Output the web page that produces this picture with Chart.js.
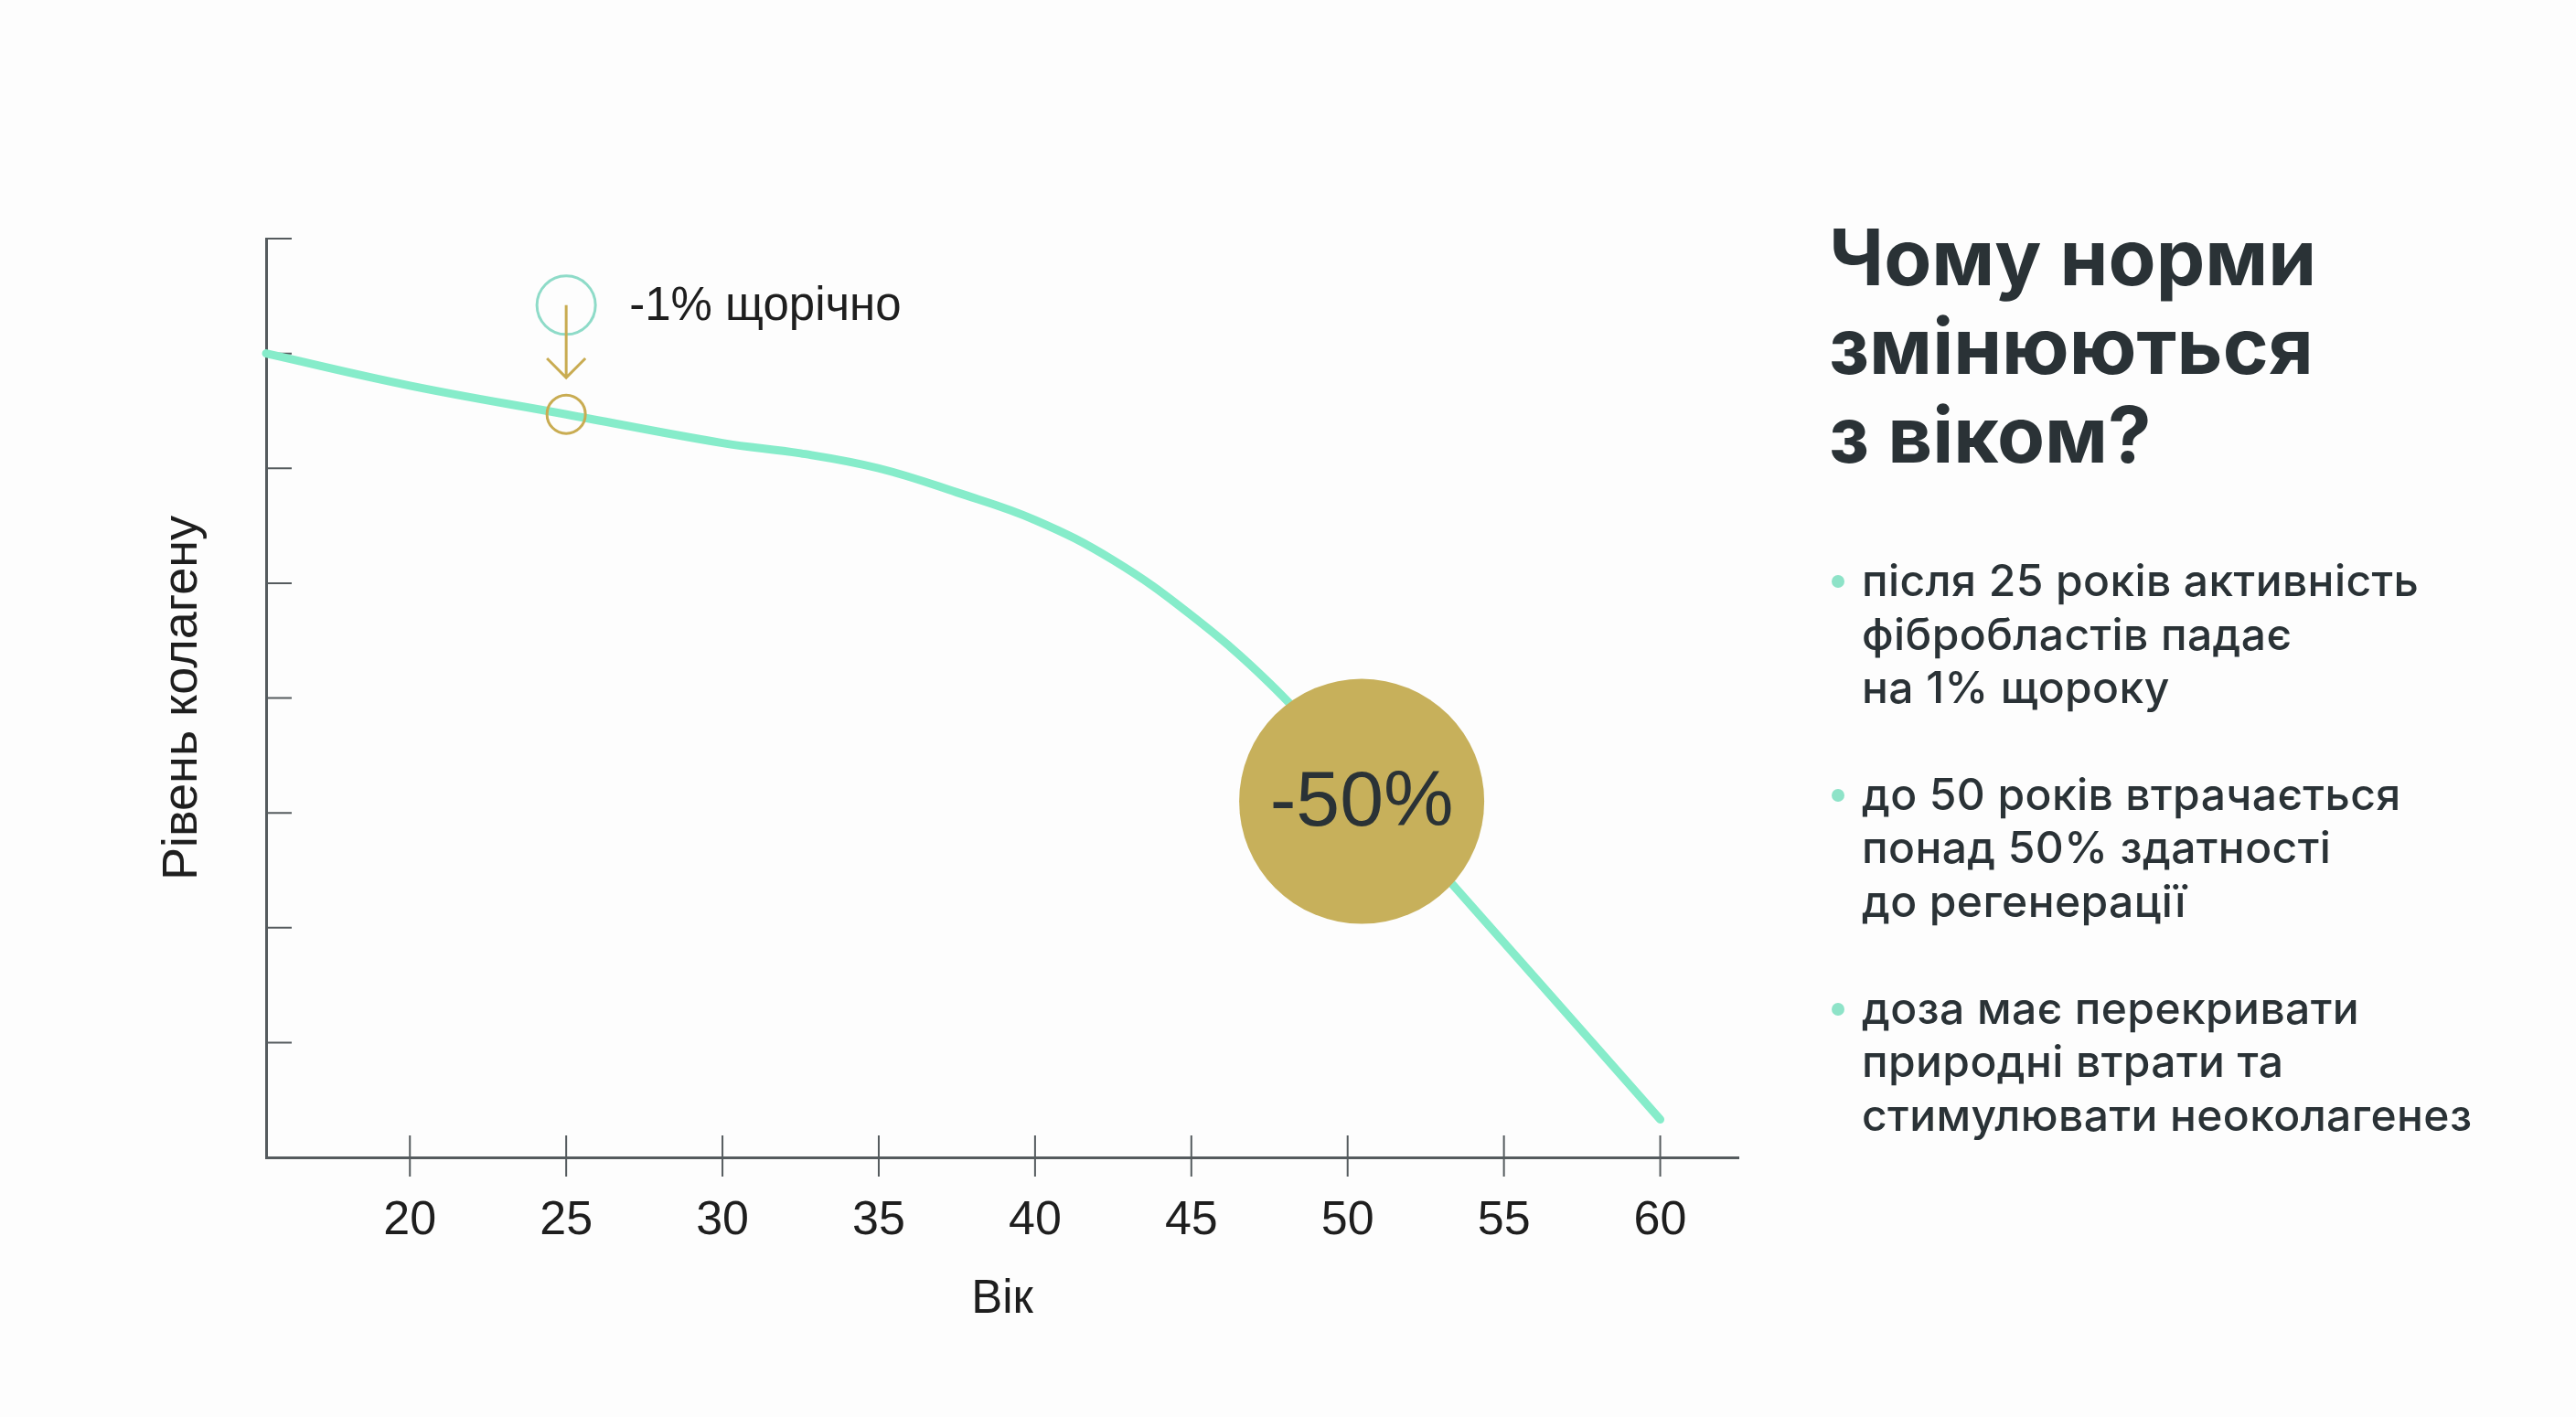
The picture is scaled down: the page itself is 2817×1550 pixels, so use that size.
<!DOCTYPE html>
<html lang="uk">
<head>
<meta charset="utf-8">
<title>Рівень колагену</title>
<script src="https://cdn.jsdelivr.net/npm/chart.js@4.4.1/dist/chart.umd.min.js"></script>
<style>
    html, body {
        margin: 0;
        padding: 0;
        width: 2817px;
        height: 1550px;
        overflow: hidden;
        background: #fdfdfd;
    }
    #chartBox {
        position: absolute;
        left: 0;
        top: 0;
        width: 2035px;
        height: 1550px;
    }
    #side {
        position: absolute;
        left: 2000px;
        top: 233px;
        width: 800px;
        color: #2a3236;
        font-family: Inter, "Noto Sans", sans-serif;
    }
    #side h1 {
        margin: 0;
        font-size: 85px;
        line-height: 97px;
        font-weight: 700;
    }
    #side ul {
        list-style: none;
        margin: 82px 0 0 0;
        padding: 0;
    }
    #side li {
        position: relative;
        padding-left: 36px;
        font-size: 48px;
        font-weight: 500;
        letter-spacing: 0.4px;
        line-height: 58.6px;
        margin-bottom: 58px;
    }
    #side li::before {
        content: "";
        position: absolute;
        left: 3px;
        top: 23px;
        width: 14px;
        height: 14px;
        border-radius: 50%;
        background: #8ee3c8;
    }
</style>
</head>
<body>
<div id="chartBox"><canvas id="collagenChart"></canvas></div>
<div id="side">
    <h1>Чому норми<br>змінюються<br>з віком?</h1>
    <ul>
        <li>після 25 років активність<br>фібробластів падає<br>на 1% щороку</li>
        <li>до 50 років втрачається<br>понад 50% здатності<br>до регенерації</li>
        <li>доза має перекривати<br>природні втрати та<br>стимулювати неоколагенез</li>
    </ul>
</div>
<script>
// curve (age -> collagen level, y ticks 0..8)
const ages = [15.4, 20, 25, 30, 32.5, 35, 37.5, 40, 42.5, 45, 47.5, 50, 55, 60];
const collagen = [7.0, 6.72, 6.47, 6.22, 6.13, 6.0, 5.79, 5.55, 5.2, 4.72, 4.13, 3.4, 1.87, 0.33];
const xTicks = [20, 25, 30, 35, 40, 45, 50, 55, 60];
const yTicks = [0, 1, 2, 3, 4, 5, 6, 7, 8];

// annotation: -1% per year marker at 25
const markerAge = [25];
const markerLevels = [7.42, 6.47]; // teal ring, gold ring on the curve
const arrowLevels = [7.42, 6.79];
const markerText = ["-1% щорічно"];

// annotation: -50% disc
const dropPoint = [50.45, 3.1];
const dropText = ["-50%"];

const COLORS = {
    line: "#86ecca",
    teal: "#8edbc8",
    gold: "#c9ac52",
    disc: "#c7b05b",
    axis: "#555b5e",
    text: "#1e1e1e",
    dark: "#2a3236",
};

Chart.defaults.font.family = "'Liberation Sans', Arial, sans-serif";
Chart.defaults.color = COLORS.text;

const axisMarks = {
    id: "axisMarks",
    beforeDatasetsDraw(chart) {
        const ctx = chart.ctx;
        const x = chart.scales.x;
        const y = chart.scales.y;
        const area = chart.chartArea;
        ctx.save();
        ctx.strokeStyle = COLORS.axis;
        ctx.lineWidth = 2;
        ctx.beginPath();
        yTicks.forEach((v) => {
            if (v === 0) return;
            const py = y.getPixelForValue(v);
            ctx.moveTo(area.left, py);
            ctx.lineTo(area.left + 28, py);
        });
        xTicks.forEach((v) => {
            const px = x.getPixelForValue(v);
            ctx.moveTo(px, area.bottom - 24);
            ctx.lineTo(px, area.bottom + 21);
        });
        ctx.stroke();
        ctx.restore();
    },
    afterDatasetsDraw(chart) {
        const ctx = chart.ctx;
        const x = chart.scales.x;
        const y = chart.scales.y;
        ctx.save();

        // arrow from teal ring down to the curve
        const ax = x.getPixelForValue(markerAge[0]);
        const ay0 = y.getPixelForValue(arrowLevels[0]);
        const ay1 = y.getPixelForValue(arrowLevels[1]);
        ctx.strokeStyle = COLORS.gold;
        ctx.lineWidth = 3;
        ctx.beginPath();
        ctx.moveTo(ax, ay0);
        ctx.lineTo(ax, ay1);
        ctx.moveTo(ax - 21, ay1 - 21);
        ctx.lineTo(ax, ay1);
        ctx.lineTo(ax + 21, ay1 - 21);
        ctx.stroke();

        // label next to the teal ring
        ctx.fillStyle = COLORS.text;
        ctx.font = "51px 'Liberation Sans', Arial, sans-serif";
        ctx.textAlign = "left";
        ctx.textBaseline = "middle";
        ctx.fillText(markerText[0], ax + 69, y.getPixelForValue(markerLevels[0]) + 2);

        // -50% inside the disc
        ctx.fillStyle = COLORS.dark;
        ctx.font = "86px 'Liberation Sans', Arial, sans-serif";
        ctx.textAlign = "center";
        ctx.fillText(dropText[0], x.getPixelForValue(dropPoint[0]), y.getPixelForValue(dropPoint[1]) + 3);
        ctx.restore();
    },
};

const ctx = document.getElementById("collagenChart");
new Chart(ctx, {
    type: "line",
    data: {
        datasets: [
            {
                label: "disc",
                data: [{ x: dropPoint[0], y: dropPoint[1] }],
                showLine: false,
                pointRadius: 134,
                pointBackgroundColor: COLORS.disc,
                pointBorderWidth: 0,
                order: 0,
                clip: false,
            },
            {
                label: "gold ring",
                data: [{ x: markerAge[0], y: markerLevels[1] }],
                showLine: false,
                pointRadius: 21,
                pointBackgroundColor: "rgba(0,0,0,0)",
                pointBorderColor: COLORS.gold,
                pointBorderWidth: 3,
                order: 0,
                clip: false,
            },
            {
                label: "teal ring",
                data: [{ x: markerAge[0], y: markerLevels[0] }],
                showLine: false,
                pointRadius: 32,
                pointBackgroundColor: "rgba(0,0,0,0)",
                pointBorderColor: COLORS.teal,
                pointBorderWidth: 3,
                order: 0,
                clip: false,
            },
            {
                label: "Рівень колагену",
                data: ages.map((a, i) => ({ x: a, y: collagen[i] })),
                borderColor: COLORS.line,
                borderWidth: 9,
                borderCapStyle: "round",
                tension: 0.4,
                pointRadius: 0,
                fill: false,
                order: 1,
                clip: false,
            },
        ],
    },
    options: {
        responsive: true,
        maintainAspectRatio: false,
        animation: false,
        events: [],
        layout: {
            padding: { left: 164, top: 261, right: 59, bottom: 93 },
        },
        plugins: {
            legend: { display: false },
            tooltip: { enabled: false },
        },
        scales: {
            x: {
                type: "linear",
                min: 15.4,
                max: 62.5,
                afterBuildTicks: (scale) => {
                    scale.ticks = xTicks.map((v) => ({ value: v }));
                },
                afterFit: (scale) => {
                    scale.height = 191;
                },
                grid: { display: false, drawTicks: false },
                border: { display: true, color: COLORS.axis, width: 3 },
                ticks: {
                    padding: 38,
                    font: { size: 52 },
                    color: COLORS.text,
                    maxRotation: 0,
                },
                title: {
                    display: true,
                    text: "Вік",
                    font: { size: 51 },
                    color: COLORS.text,
                },
            },
            y: {
                min: 0,
                max: 8,
                afterBuildTicks: (scale) => {
                    scale.ticks = yTicks.map((v) => ({ value: v }));
                },
                afterFit: (scale) => {
                    scale.width = 127;
                },
                grid: { display: false, drawTicks: false },
                border: { display: true, color: COLORS.axis, width: 3 },
                ticks: { display: false },
                title: {
                    display: true,
                    text: "Рівень колагену",
                    font: { size: 54 },
                    color: COLORS.text,
                },
            },
        },
    },
    plugins: [axisMarks],
});
</script>
</body>
</html>
